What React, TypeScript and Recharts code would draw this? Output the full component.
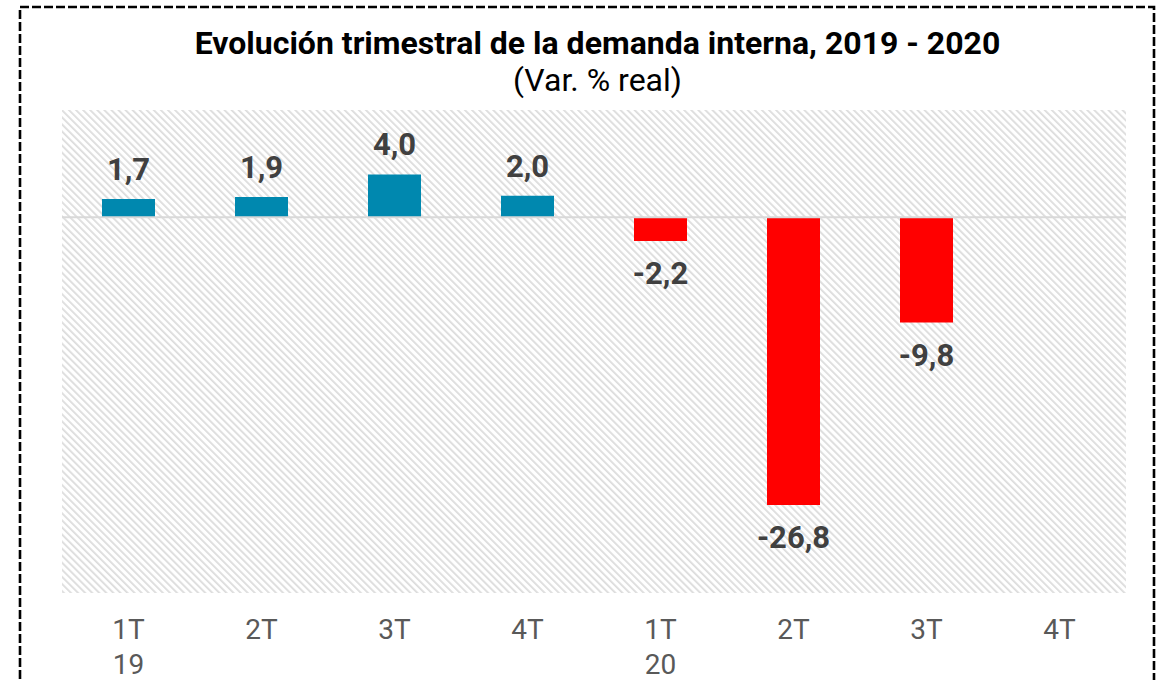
import { BarChart, Bar, XAxis, YAxis, CartesianGrid, ReferenceLine, Cell, LabelList } from 'recharts';

const quarters = ['1T', '2T', '3T', '4T', '1T', '2T', '3T', '4T'];
const years = ['19', '', '', '', '20', '', '', ''];
const values = [1.7, 1.9, 4.0, 2.0, -2.2, -26.8, -9.8, 0.0];

const data = quarters.map((q, i) => ({ key: `${q}-${i}`, q, year: years[i], value: values[i] }));

const FONT = 'Roboto, "Noto Sans", sans-serif';
const fmt = (v: number) => v.toFixed(1).replace('.', ',');

const QuarterTick = (props: any) => {
  const { x, y, payload } = props;
  const row = data[payload.index];
  return (
    <text x={x} y={y} textAnchor="middle" fill="#595959" fontSize={28} fontFamily={FONT}>
      <tspan x={x} dy={38}>{row.q}</tspan>
      {row.year && <tspan x={x} dy={35}>{row.year}</tspan>}
    </text>
  );
};

const ValueLabel = (props: any) => {
  const { x, y, width, height, value } = props;
  const top = Math.min(y, y + height);
  const bottom = Math.max(y, y + height);
  const cx = x + width / 2;
  const ty = value >= 0 ? top - 19 : bottom + 43;
  return (
    <text x={cx} y={ty} textAnchor="middle" fill="#404040" fontSize={31} fontWeight="bold" fontFamily={FONT}>
      {fmt(value)}
    </text>
  );
};

const App = () => {
  return (
    <div style={{ position: 'absolute', left: 0, top: 0, width: 1163, height: 680, overflow: 'hidden', background: '#fff', fontFamily: FONT }}>
      <div style={{ position: 'absolute', left: 0, width: 1195, top: 25, textAlign: 'center', fontSize: 32, fontWeight: 'bold', color: '#000', lineHeight: '36px', whiteSpace: 'nowrap' }}>
        Evolución trimestral de la demanda interna, 2019 - 2020
      </div>
      <div style={{ position: 'absolute', left: 0, width: 1195, top: 62, textAlign: 'center', fontSize: 32, color: '#000', lineHeight: '36px' }}>
        (Var. % real)
      </div>
      <div style={{ position: 'absolute', left: 0, top: 0 }}>
        <BarChart width={1163} height={680} data={data} margin={{ top: 110, right: 37, bottom: 27, left: 62 }}>
          <defs>
            <pattern id="hatch" width={5} height={5} patternUnits="userSpaceOnUse" patternTransform="rotate(-45)">
              <rect x={0} y={0} width={1.8} height={5} fill="#dcdcdc" />
            </pattern>
          </defs>
          <CartesianGrid horizontal={false} vertical={false} fill="url(#hatch)" stroke="none" />
          <XAxis dataKey="key" axisLine={false} tickLine={false} interval={0} height={60} tick={<QuarterTick />} />
          <YAxis hide domain={[-35, 10]} />
          <ReferenceLine y={0} stroke="#d9d9d9" strokeWidth={2} />
          <Bar dataKey="value" barSize={53} isAnimationActive={false}>
            {data.map((d) => (
              <Cell key={d.key} fill={d.value >= 0 ? '#0088AF' : '#FF0000'} />
            ))}
            <LabelList dataKey="value" content={<ValueLabel />} />
          </Bar>
        </BarChart>
      </div>
      <svg width={1163} height={680} style={{ position: 'absolute', left: 0, top: 0, pointerEvents: 'none' }}>
        <rect x={20} y={7} width={1134} height={720} fill="none" stroke="#000" strokeWidth={2.6} strokeDasharray="9 3" />
      </svg>
    </div>
  );
};

export default App;
